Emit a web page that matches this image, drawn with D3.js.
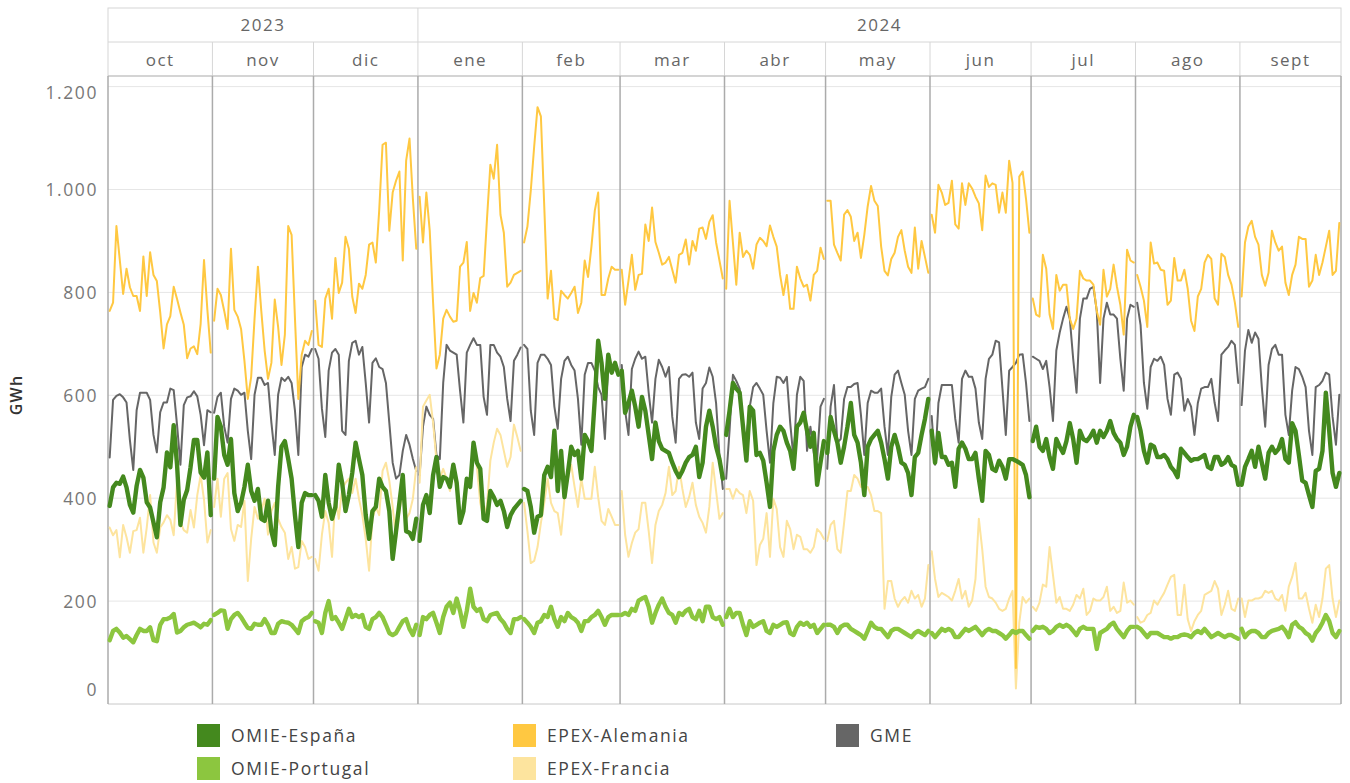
<!DOCTYPE html>
<html><head><meta charset="utf-8">
<script src="https://cdn.jsdelivr.net/npm/d3@7"></script>
<style>
body{margin:0;background:#fff;}
svg text{font-family:"Open Sans",sans-serif;}
</style>
</head><body>
<svg id="chart" width="1350" height="783"></svg>
<script>
// ---------- DATA ----------
const monthLabels = ["oct","nov","dic","ene","feb","mar","abr","may","jun","jul","ago","sept"];
const yearLabels = ["2023","2024"];
const yTicks = [0,200,400,600,800,1000,1200];
const yTickLabels = ["0","200","400","600","800","1.000","1.200"];
const seriesNames = ["OMIE-España","OMIE-Portugal","EPEX-Alemania","EPEX-Francia","GME"];

const omieEspana = [
385,421,430,428,442,421,387,372,424,455,440,392,382,353,324,392,421,489,460,542,465,348,397,416,460,513,513,450,440,489,367,
438,558,539,484,465,515,410,375,391,422,465,414,395,418,360,356,395,336,309,422,500,511,476,438,367,305,391,410,406,406,
406,395,364,445,391,360,383,465,430,375,406,449,508,476,445,367,321,375,383,438,422,414,375,282,336,391,445,336,333,321,360,
317,387,406,371,445,480,422,441,438,422,465,430,352,375,438,422,508,469,457,360,356,414,402,387,395,375,344,367,379,387,395,
418,414,383,333,364,367,445,461,441,531,414,492,402,449,500,484,492,438,523,511,492,593,706,663,593,679,644,663,640,
648,566,585,609,578,539,597,570,523,476,547,511,496,492,488,469,453,441,453,469,480,484,500,441,469,539,570,539,500,476,438,
523,570,624,613,605,539,473,578,570,484,488,473,430,383,492,523,539,531,508,492,457,539,547,566,531,500,527,426,469,511,
488,558,531,508,469,500,539,585,523,508,469,406,500,515,523,531,508,476,438,500,523,500,469,465,449,406,480,488,523,554,593,
531,469,527,480,480,465,469,422,496,508,496,476,476,488,438,395,492,484,457,453,473,461,438,476,476,473,469,465,445,402,
511,539,500,492,515,480,457,515,500,488,511,546,515,469,531,515,511,519,531,508,531,519,531,550,527,515,508,484,500,539,562,
558,531,492,469,504,500,480,480,484,476,461,453,441,496,488,480,473,476,476,480,484,461,457,480,480,465,469,480,465,461,426,
426,461,476,492,461,500,469,438,488,500,488,496,515,476,469,546,531,484,434,430,406,383,453,457,492,605,531,449,422,449
];
const omiePortugal = [
124,142,146,139,129,132,126,120,134,146,142,142,149,124,122,154,165,165,168,175,139,142,149,154,156,158,154,149,156,154,163,
173,177,182,181,146,165,173,177,169,158,148,146,156,154,154,165,154,138,138,156,161,159,158,154,146,138,161,166,169,177,
161,158,138,177,200,165,169,158,146,165,185,169,173,169,173,150,146,165,169,177,169,154,138,134,138,150,161,165,146,134,154,
134,169,165,173,177,158,138,169,189,197,177,205,181,150,181,224,189,181,185,165,161,173,175,177,165,158,146,138,165,165,169,
165,158,150,138,158,161,173,169,189,165,150,169,161,177,169,165,158,142,161,161,169,173,181,169,154,169,173,173,173,
173,177,173,185,181,201,205,208,189,158,177,193,205,189,177,173,158,177,173,181,185,169,165,181,161,189,189,169,165,169,154,
169,185,169,177,177,154,134,161,150,154,158,161,142,138,154,150,154,158,159,138,134,150,158,154,158,150,154,138,146,154,
154,154,150,138,150,154,154,146,142,138,134,127,142,158,150,146,146,138,130,142,146,146,142,138,134,130,138,142,138,134,142,
138,130,138,146,142,146,142,130,130,138,146,142,146,150,142,134,142,146,142,142,138,134,127,134,142,138,142,142,134,127,
142,150,148,150,146,138,142,150,154,150,154,150,142,134,146,150,146,146,146,107,138,142,146,154,158,146,138,130,142,150,150,
150,146,138,130,138,138,138,134,130,130,127,130,130,134,135,134,130,138,142,138,146,138,130,134,138,134,130,134,134,130,127,
146,130,138,142,142,138,130,130,138,142,144,146,150,142,130,154,159,150,146,138,134,123,138,146,158,173,161,138,130,142
];
const epexAlemania = [
764,780,929,863,797,846,810,793,793,764,870,793,878,834,822,761,691,738,754,811,787,761,737,672,691,695,680,739,863,766,683,
745,807,795,764,729,885,766,753,729,667,593,636,749,850,764,687,632,663,786,733,659,718,929,912,749,593,679,706,698,725,
784,698,694,788,807,749,867,799,819,908,885,792,760,817,807,834,893,897,858,959,1087,1091,920,994,1017,1035,862,1056,1099,982,885,
986,897,994,920,780,652,679,749,766,753,743,745,850,858,898,764,799,780,828,832,943,1048,1021,1087,951,916,811,819,834,838,842,
897,928,998,1083,1160,1142,967,788,842,749,746,803,795,788,799,811,760,780,862,830,889,959,994,795,795,827,850,844,844,
844,776,823,873,805,834,836,932,900,965,898,877,854,858,869,844,819,873,877,903,854,900,881,924,926,904,937,950,897,862,827,
807,978,897,815,916,869,881,873,846,893,906,900,890,930,908,889,834,795,834,768,768,850,827,811,815,784,834,842,887,865,
978,978,893,877,862,951,960,947,900,916,867,912,967,1007,978,968,889,842,833,865,877,908,921,881,850,838,926,846,900,869,838,
951,916,1009,994,970,974,1017,932,924,1012,970,1012,1002,986,973,921,1027,1005,1012,1009,955,994,955,1056,1013,70,1025,1035,982,916,
788,757,753,873,846,757,729,834,803,815,815,749,729,749,842,827,823,823,815,764,737,844,792,807,854,811,776,718,883,862,858,
834,811,784,733,897,856,858,844,842,776,784,867,823,823,844,807,745,725,792,807,858,873,865,788,776,875,869,834,815,780,733,
792,897,928,939,908,893,834,813,838,920,897,881,889,819,795,834,854,908,904,904,811,823,873,834,858,889,920,834,842,935
];
const epexFrancia = [
343,328,338,285,348,324,294,336,338,362,294,343,406,314,294,343,353,367,358,328,435,353,338,333,377,343,406,445,397,314,338,
383,438,364,438,449,340,317,348,344,395,239,321,383,360,375,399,329,375,391,360,344,333,282,305,263,266,317,305,282,286,
282,259,329,375,352,286,406,360,418,430,438,410,438,399,367,321,259,360,383,367,453,469,434,383,321,375,414,360,371,399,460,
430,578,590,601,547,473,438,457,438,414,449,422,367,375,438,422,500,461,391,360,387,473,508,535,523,492,461,480,543,519,492,
391,336,274,278,305,352,391,438,391,375,371,329,399,438,465,422,383,438,399,399,399,461,402,356,348,379,364,348,348,
414,329,286,313,333,340,391,391,336,274,348,375,387,410,461,406,414,461,418,383,402,430,387,364,352,333,383,469,414,360,371,
418,418,399,418,410,406,371,414,395,270,309,321,371,286,399,379,305,286,356,340,301,329,325,301,301,294,305,340,333,321,
317,348,356,301,294,352,414,414,445,438,422,422,422,406,375,375,371,185,239,239,205,189,201,208,197,220,205,212,189,205,270,
297,243,208,216,212,208,201,220,243,205,220,189,201,243,360,301,228,208,205,197,185,181,185,205,220,30,158,208,197,205,
189,181,197,232,228,305,251,197,208,185,185,181,193,212,205,224,173,181,205,201,201,208,228,181,189,177,181,236,197,201,193,
169,158,161,173,177,201,193,205,216,232,247,251,173,173,232,165,142,161,173,181,212,216,220,239,224,173,193,220,185,181,205,
205,169,201,201,205,205,208,220,216,220,205,201,212,181,228,247,274,205,205,216,185,158,193,169,205,263,270,205,169,201
];
const gme = [
479,591,599,602,596,586,513,455,571,605,605,605,591,523,489,567,586,586,613,610,542,465,581,596,598,608,598,562,503,571,567,
566,597,605,539,508,593,613,609,601,605,531,476,601,634,634,620,624,547,484,601,634,628,636,624,570,484,655,679,675,690,
690,671,574,519,648,683,690,679,531,523,667,702,706,679,694,624,547,663,672,655,651,624,547,469,438,445,492,523,504,476,453,
445,539,578,562,554,484,476,624,698,687,683,679,609,547,683,698,711,698,698,597,562,698,698,683,675,655,593,550,667,679,693,
698,690,570,523,663,679,679,671,659,578,535,632,667,675,659,648,593,504,640,663,663,648,616,601,515,663,659,651,640,
659,570,523,651,671,685,671,675,605,547,632,669,655,636,655,558,508,632,640,641,636,644,547,515,613,624,654,636,585,484,418,
438,531,640,628,613,539,515,578,616,624,613,601,531,469,585,636,634,624,636,547,476,601,636,628,492,539,488,476,578,593,
457,578,620,508,515,593,616,616,622,624,562,484,585,609,605,605,613,539,484,597,640,648,624,601,531,484,593,609,613,616,632,
560,465,585,620,620,620,620,554,508,632,648,636,636,613,547,515,632,671,679,706,703,613,523,648,655,663,679,680,624,550,
675,671,667,651,667,616,550,687,722,749,772,749,671,605,749,788,788,807,811,764,624,749,780,757,757,749,671,609,749,776,772,
780,737,624,574,655,671,667,675,659,593,562,640,644,632,570,593,578,523,585,613,616,616,632,585,550,679,687,694,706,698,624,
581,687,727,702,722,710,616,539,659,690,698,679,679,562,523,609,655,651,636,616,531,484,616,620,628,644,640,558,504,601
];

// ---------- STYLE ----------
const seriesColors = ["#44891e","#8cc63f","#ffc841","#fde49e","#666666"];
const seriesWidths = [4.4,4.4,2,2,2];
const seriesData = [omieEspana, omiePortugal, epexAlemania, epexFrancia, gme];

// ---------- SCALES ----------
const svg = d3.select("#chart");
const t0 = new Date(Date.UTC(2023,9,1)), t1 = new Date(Date.UTC(2024,9,1));
const days = d3.utcDay.range(t0, t1);
const monthStarts = d3.utcMonth.range(t0, t1);
const L = 108, R = 1341, T = 76, B = 704;
const x = d3.scaleUtc().domain([t0, t1]).range([L, R]);
const y = d3.scaleLinear().domain([0, 1220.6]).range([B, T]);

// gridlines
svg.append("g").selectAll("line").data(yTicks.filter(d => d > 0)).join("line")
  .attr("x1", L).attr("x2", R).attr("y1", d => y(d)).attr("y2", d => y(d))
  .attr("stroke", "#e6e6e6").attr("stroke-width", 1);

// header
const hdr = svg.append("g");
const yearBounds = [[t0, new Date(Date.UTC(2024,0,1))],[new Date(Date.UTC(2024,0,1)), t1]];
hdr.append("rect").attr("x", L).attr("y", 8).attr("width", R - L).attr("height", T - 8)
  .attr("fill", "#fff").attr("stroke", "#d6d6d6");
hdr.append("line").attr("x1", L).attr("x2", R).attr("y1", 42).attr("y2", 42).attr("stroke", "#d6d6d6");
hdr.selectAll(".yd").data(yearBounds.slice(1)).join("line")
  .attr("x1", d => x(d[0])).attr("x2", d => x(d[0])).attr("y1", 8).attr("y2", 42).attr("stroke", "#d6d6d6");
hdr.selectAll(".md").data(monthStarts.slice(1)).join("line")
  .attr("x1", d => x(d)).attr("x2", d => x(d)).attr("y1", 42).attr("y2", T).attr("stroke", "#d6d6d6");
hdr.selectAll(".yt").data(yearBounds).join("text")
  .attr("x", d => (x(d[0]) + x(d[1])) / 2).attr("y", 31)
  .attr("text-anchor", "middle").attr("font-size", 17).attr("letter-spacing", 1.5)
  .attr("fill", "#666").text((d, i) => yearLabels[i]);
hdr.selectAll(".mt").data(monthStarts).join("text")
  .attr("x", d => (x(d) + x(d3.utcMonth.offset(d, 1))) / 2).attr("y", 66)
  .attr("text-anchor", "middle").attr("font-size", 17).attr("letter-spacing", 1.5)
  .attr("fill", "#666").text((d, i) => monthLabels[i]);

// plot frame
svg.append("line").attr("x1", L).attr("x2", R).attr("y1", T).attr("y2", T).attr("stroke", "#bdbdbd");
svg.append("line").attr("x1", L).attr("x2", R).attr("y1", B).attr("y2", B).attr("stroke", "#c8c8c8");
svg.append("g").selectAll("line").data(monthStarts.concat([t1])).join("line")
  .attr("x1", d => x(d)).attr("x2", d => x(d)).attr("y1", T).attr("y2", B)
  .attr("stroke", "#ababab").attr("stroke-width", 1.5);

// y axis
const yAxis = svg.append("g").attr("transform", `translate(${L},0)`)
  .call(d3.axisLeft(y).tickValues(yTicks).tickSize(0).tickPadding(10)
    .tickFormat((d, i) => yTickLabels[i]));
yAxis.select(".domain").remove();
yAxis.selectAll("text").attr("font-family", "Open Sans").attr("font-size", 17.5)
  .attr("letter-spacing", 1.6).attr("fill", "#777")
  .attr("dy", d => d === 0 ? "-0.5em" : d === 1200 ? "0.7em" : "0.35em");
svg.append("text").attr("transform", "translate(22,395) rotate(-90)")
  .attr("text-anchor", "middle").attr("font-size", 16).attr("font-weight", 600)
  .attr("letter-spacing", 1.2).attr("fill", "#333").text("GWh");

// lines: one segment per month pane
const line = d3.line().x(d => x(d3.utcHour.offset(d.date, 12))).y(d => y(d.v));
const drawOrder = [4, 3, 2, 1, 0];
const linesG = svg.append("g").attr("fill", "none").attr("stroke-linejoin", "round").attr("stroke-linecap", "round");
drawOrder.forEach(si => {
  const pts = days.map((date, i) => ({date, v: seriesData[si][i]}));
  const byMonth = d3.groups(pts, d => d3.utcMonth.floor(d.date).getTime()).map(g => g[1]);
  linesG.append("g").selectAll("path").data(byMonth).join("path")
    .attr("d", line).attr("stroke", seriesColors[si]).attr("stroke-width", seriesWidths[si]);
});

// legend
const legendPos = [[197,724],[197,757],[513,724],[513,757],[836,724]];
const lg = svg.append("g");
seriesNames.forEach((name, i) => {
  const [lx, ly] = legendPos[i];
  lg.append("rect").attr("x", lx).attr("y", ly).attr("width", 23).attr("height", 23).attr("fill", seriesColors[i]);
  lg.append("text").attr("x", lx + 34).attr("y", ly + 18).attr("font-size", 17.5)
    .attr("letter-spacing", 1.6).attr("fill", "#444").text(name);
});
</script>
</body></html>
